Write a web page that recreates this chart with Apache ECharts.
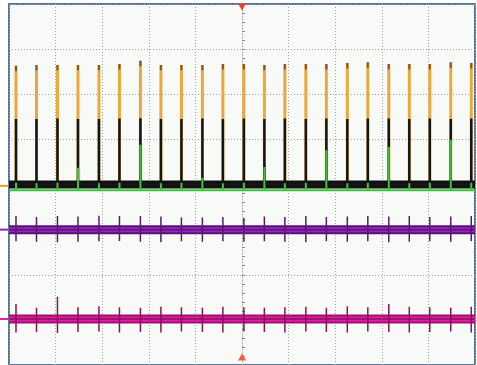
<!DOCTYPE html>
<html><head><meta charset="utf-8">
<script src="https://cdn.jsdelivr.net/npm/echarts@6/dist/echarts.min.js"></script>
<style>html,body{margin:0;padding:0;background:#fff}#c{width:477px;height:365px}</style>
</head><body><div id="c"></div>
<script>
// time positions of the pulses (divisions, screen centre = 0)
const spikeTimes = [-4.85,-4.41,-3.96,-3.52,-3.07,-2.63,-2.18,-1.74,-1.30,-0.85,-0.41,0.04,0.48,0.92,1.37,1.81,2.26,2.70,3.15,3.59,4.03,4.48,4.92];
// channel baselines (divisions)
const orangeBase = -0.03, blackBase = 0.0, greenBase = -0.13, purpleBase = -1.0, magentaBase = -2.98;
// pulse tops (divisions)
const orangePeaks = [2.63,2.65,2.65,2.65,2.65,2.67,2.74,2.65,2.65,2.65,2.67,2.67,2.65,2.67,2.67,2.67,2.69,2.71,2.67,2.67,2.67,2.71,2.69];
const blackPeaks  = [1.45,1.45,1.46,1.45,1.45,1.46,1.47,1.45,1.45,1.46,1.45,1.46,1.45,1.46,1.45,1.46,1.45,1.46,1.46,1.45,1.46,1.45,1.46];
const greenPeaks  = [0.04,0.03,0.04,0.37,0.03,0.04,0.88,0.03,0.04,0.15,0.03,0.04,0.39,0.03,0.04,0.76,0.03,0.04,0.83,0.03,0.04,0.99,0.04];
// glitch excursions on channels 3 and 4 (divisions relative to baseline)
const purpleUp   = [0.30,0.28,0.30,0.29,0.31,0.30,0.30,0.29,0.27,0.27,0.28,0.26,0.29,0.28,0.30,0.28,0.29,0.30,0.29,0.30,0.28,0.29,0.30];
const purpleDown = [0.26,0.27,0.28,0.27,0.26,0.25,0.27,0.28,0.26,0.27,0.26,0.27,0.26,0.27,0.28,0.26,0.27,0.26,0.28,0.27,0.26,0.27,0.26];
const magentaUp   = [0.33,0.25,0.49,0.26,0.28,0.26,0.25,0.27,0.26,0.25,0.27,0.26,0.25,0.26,0.27,0.25,0.28,0.26,0.33,0.27,0.26,0.25,0.27];
const magentaDown = [0.30,0.29,0.31,0.29,0.28,0.30,0.29,0.30,0.28,0.29,0.30,0.28,0.29,0.30,0.28,0.29,0.30,0.28,0.29,0.30,0.29,0.28,0.30];
const tipLength = 0.12; // dark tip on top of each channel-1 pulse

function pulses(base, tops){
  const d=[[-5,base]];
  spikeTimes.forEach((t,i)=>{d.push([t,base],[t,tops[i]],[t,base]);});
  d.push([5,base]); return d;
}
function tips(tops){
  const d=[];
  spikeTimes.forEach((t,i)=>{d.push([t,tops[i]-tipLength],[t,tops[i]],null);});
  return d;
}
function glitches(base, up, down){
  const d=[[-5,base]];
  spikeTimes.forEach((t,i)=>{d.push([t,base],[t,base+up[i]],[t,base-down[i]],[t,base]);});
  d.push([5,base]); return d;
}
function band(base){ return [[-5,base],[5,base]]; }
function line(data,color,width,extra){
  return Object.assign({type:'line',data:data,symbol:'none',silent:true,animation:false,connectNulls:false,
    lineStyle:{color:color,width:width},emphasis:{disabled:true}},extra||{});
}
function marker(base,color){
  return {symbol:'rect',symbolSize:[8,2],symbolOffset:[-5,0],silent:true,animation:false,
    data:[{coord:[-5,base],itemStyle:{color:color}}],label:{show:false}};
}
const dotted={color:'#a3a3a3',width:1,type:[1,2]};
const chart=echarts.init(document.getElementById('c'),null,{renderer:'canvas'});
chart.setOption({
  backgroundColor:'#ffffff',
  animation:false,
  grid:{left:9,right:2,top:4,bottom:-1,show:true,backgroundColor:'#f8faf8',borderColor:'#5b7695',borderWidth:2},
  xAxis:{type:'value',min:-5,max:5,interval:1,
    axisLine:{show:true,onZero:true,lineStyle:dotted},
    axisTick:{show:true,length:3,lineStyle:{color:'#999'}},
    minorTick:{show:true,splitNumber:5,length:3,lineStyle:{color:'#999'}},
    splitLine:{show:true,lineStyle:dotted},axisLabel:{show:false}},
  yAxis:{type:'value',min:-4,max:4,interval:1,
    axisLine:{show:true,onZero:true,lineStyle:dotted},
    axisTick:{show:true,length:3,inside:true,lineStyle:{color:'#888'}},
    minorTick:{show:true,splitNumber:5,length:3,lineStyle:{color:'#888'}},
    splitLine:{show:true,lineStyle:dotted},axisLabel:{show:false}},
  series:[
    line(pulses(orangeBase,orangePeaks),'#eaa83a',3,{markPoint:marker(orangeBase,'#e0a030')}),
    line(tips(orangePeaks),'#7a5a2a',2),
    line(band(blackBase),'#101010',8),
    line(pulses(blackBase,blackPeaks),'#151515',2.5),
    line(pulses(greenBase,greenPeaks),'#3cc43c',2),
    line(band(purpleBase),'#5c1075',9,{markPoint:marker(purpleBase,'#8a20b8')}),
    line(band(purpleBase),'#9424c4',5),
    line(glitches(purpleBase,purpleUp,purpleDown),'#5a1a6a',1.5),
    line(band(magentaBase),'#a0106e',9,{markPoint:marker(magentaBase,'#e020a0')}),
    line(band(magentaBase),'#e41ea4',5),
    line(glitches(magentaBase,magentaUp,magentaDown),'#8a1060',1.5),
    line(band(0),'rgba(0,0,0,0)',0,{markPoint:{silent:true,animation:false,label:{show:false},
      data:[{coord:[0,4],symbol:'triangle',symbolRotate:180,symbolSize:[8,7],symbolOffset:[0,3],itemStyle:{color:'#e8452a'}},
            {coord:[0,-4],symbol:'triangle',symbolSize:[8,7],symbolOffset:[0,-8],itemStyle:{color:'#f06030'}}]}})
  ]
});
</script></body></html>
